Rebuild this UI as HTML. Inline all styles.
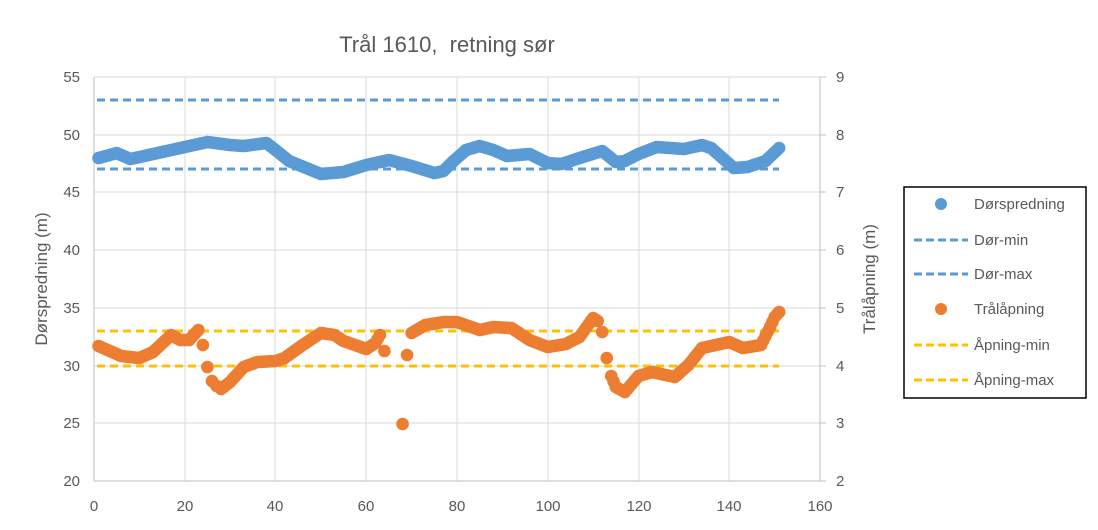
<!DOCTYPE html>
<html><head><meta charset="utf-8"><style>body{margin:0;background:#fff}svg{display:block}text{font-family:"Liberation Sans",sans-serif;fill:#595959}</style></head>
<body>
<svg id="s" width="1098" height="530" xmlns="http://www.w3.org/2000/svg">
<rect width="1098" height="530" fill="#fff"/>
<g stroke="#d9d9d9" stroke-width="1">
<line x1="94" y1="77" x2="820" y2="77"/><line x1="94" y1="135" x2="820" y2="135"/><line x1="94" y1="192" x2="820" y2="192"/><line x1="94" y1="250" x2="820" y2="250"/><line x1="94" y1="308" x2="820" y2="308"/><line x1="94" y1="366" x2="820" y2="366"/><line x1="94" y1="423" x2="820" y2="423"/>
<line x1="185" y1="77" x2="185" y2="481"/><line x1="275" y1="77" x2="275" y2="481"/><line x1="366" y1="77" x2="366" y2="481"/><line x1="457" y1="77" x2="457" y2="481"/><line x1="548" y1="77" x2="548" y2="481"/><line x1="639" y1="77" x2="639" y2="481"/><line x1="729" y1="77" x2="729" y2="481"/><line x1="820" y1="77" x2="820" y2="481"/>
</g>
<g stroke="#bfbfbf"><line x1="94" y1="77" x2="94" y2="481"/><line x1="94" y1="481" x2="820" y2="481"/><line x1="820" y1="77" x2="820" y2="481"/>
<line x1="820" y1="77" x2="826" y2="77"/><line x1="820" y1="135" x2="826" y2="135"/><line x1="820" y1="192" x2="826" y2="192"/><line x1="820" y1="250" x2="826" y2="250"/><line x1="820" y1="308" x2="826" y2="308"/><line x1="820" y1="366" x2="826" y2="366"/><line x1="820" y1="423" x2="826" y2="423"/><line x1="820" y1="481" x2="826" y2="481"/></g>
<g stroke-width="3" stroke-dasharray="8,5">
<line x1="97" y1="100" x2="779" y2="100" stroke="#5b9bd5"/><line x1="97" y1="169" x2="779" y2="169" stroke="#5b9bd5"/>
<line x1="97" y1="331" x2="779" y2="331" stroke="#ffc000"/><line x1="97" y1="366" x2="779" y2="366" stroke="#ffc000"/>
</g>
<g id="pts"></g>
<g font-size="15" text-anchor="end">
<text x="80" y="82">55</text><text x="80" y="140">50</text><text x="80" y="197">45</text><text x="80" y="255">40</text><text x="80" y="313">35</text><text x="80" y="371">30</text><text x="80" y="428">25</text><text x="80" y="486">20</text></g>
<g font-size="15" text-anchor="start">
<text x="836" y="82">9</text><text x="836" y="140">8</text><text x="836" y="197">7</text><text x="836" y="255">6</text><text x="836" y="313">5</text><text x="836" y="371">4</text><text x="836" y="428">3</text><text x="836" y="486">2</text></g>
<g font-size="15" text-anchor="middle">
<text x="94" y="511">0</text><text x="185" y="511">20</text><text x="275" y="511">40</text><text x="366" y="511">60</text><text x="457" y="511">80</text><text x="548" y="511">100</text><text x="639" y="511">120</text><text x="729" y="511">140</text><text x="820" y="511">160</text></g>
<text x="447" y="52" font-size="22" text-anchor="middle">Trål 1610,&#160; retning sør</text>
<text transform="translate(47,279) rotate(-90)" font-size="17" text-anchor="middle">Dørspredning (m)</text>
<text transform="translate(875,279) rotate(-90)" font-size="17" text-anchor="middle">Trålåpning (m)</text>
<rect x="904" y="187" width="182" height="211" fill="none" stroke="#000" stroke-width="1.5"/>
<circle cx="941" cy="204" r="6" fill="#5b9bd5"/><circle cx="941" cy="309" r="6" fill="#ed7d31"/>
<g stroke-width="3" stroke-dasharray="8,4"><line x1="914" y1="240" x2="968" y2="240" stroke="#5b9bd5"/><line x1="914" y1="274" x2="968" y2="274" stroke="#5b9bd5"/><line x1="914" y1="345" x2="968" y2="345" stroke="#ffc000"/><line x1="914" y1="380" x2="968" y2="380" stroke="#ffc000"/></g>
<g font-size="15"><text x="974" y="209">Dørspredning</text><text x="974" y="245">Dør-min</text><text x="974" y="279">Dør-max</text><text x="974" y="314">Trålåpning</text><text x="974" y="350">Åpning-min</text><text x="974" y="385">Åpning-max</text></g>
</svg>
<script>
var B=[[1,158],[5,153],[8,159],[12,155],[20,147],[25,142],[30,145],[33,146],[38,143],[40,150],[43,161],[50,174],[55,172],[60,165],[65,160],[70,166],[75,173],[77,171],[79,162],[82,150],[85,146],[88,150],[91,156],[96,154],[100,163],[103,164],[107,158],[112,151],[115,162],[117,161],[120,154],[124,147],[130,149],[134,145],[136,148],[141,168],[144,167],[148,161],[151,148]];
var O=[[1,346],[3,350],[6,356],[10,358],[13,352],[17,335],[19,340],[21,340],[23,330],[28,389],[30,382],[33,367],[36,362],[40,361],[42,358],[46,345],[50,333],[53,335],[55,341],[60,349],[62,343],[63,335],[70,333],[73,325],[77,322],[80,322],[85,330],[88,327],[92,328],[96,340],[100,347],[104,344],[107,337],[110,318],[111,321],[114,376],[115,387],[117,392],[120,376],[123,372],[128,377],[131,365],[134,348],[140,342],[143,348],[147,345],[149,327],[150,317],[151,312]];
var skip={24:345,25:367,26:381,27:386,64:351,65:null,66:null,67:null,68:424,69:355,112:332,113:358};
function interp(K,x){for(var i=0;i<K.length-1;i++){if(x>=K[i][0]&&x<=K[i+1][0]){var t=(x-K[i][0])/(K[i+1][0]-K[i][0]);return K[i][1]+t*(K[i+1][1]-K[i][1]);}}return null;}
var g=document.getElementById('pts'),h='';
function px(x){return 94+x*4.5375;}
for(var x=1;x<=151;x+=0.5){var y=interp(B,x);if(y!=null)h+='<circle cx="'+px(x)+'" cy="'+y+'" r="6.3" fill="#5b9bd5"/>';}
for(var x=1;x<=151;x++){var y;if(x in skip){y=skip[x];}else y=interp(O,x);if(y!=null)h+='<circle cx="'+px(x)+'" cy="'+y+'" r="6.3" fill="#ed7d31"/>';
 if(!(x in skip)&&!((x+1) in skip)&&x<151){var y2=interp(O,x+0.5);h+='<circle cx="'+px(x+0.5)+'" cy="'+y2+'" r="6.3" fill="#ed7d31"/>';}}
g.innerHTML=h;
</script>
</body></html>
